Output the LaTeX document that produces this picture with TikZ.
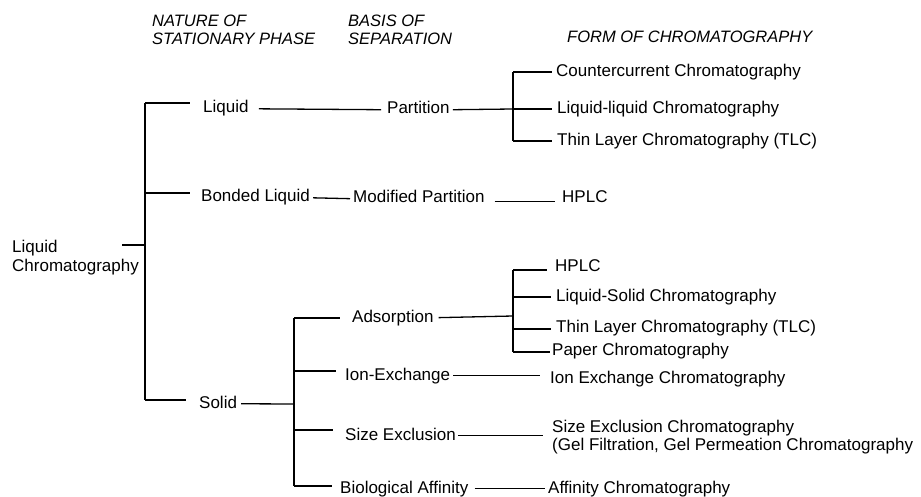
\documentclass[tikz,border=0pt]{standalone}
\usepackage{fontspec}
\newfontfamily\dfont{Liberation Sans}
\begin{document}
\begin{tikzpicture}[x=1pt,y=-1pt,
  lbl/.style={inner sep=0pt, anchor=base west, text height=12pt, text depth=3.5pt,
              font=\dfont\fontsize{17}{20}\selectfont},
  mlbl/.style={inner sep=0pt, anchor=base west, align=left,
              font=\dfont\fontsize{17}{18}\selectfont},
  hdr/.style={inner sep=0pt, anchor=base west, align=left,
              font=\dfont\itshape\fontsize{16.5}{18}\selectfont},
  conn/.style={line width=1.3pt}]
\useasboundingbox (0,0) rectangle (921,497);

% headers (base anchor = baseline of last line)
\node[hdr] (hnature) at (152,45) {NATURE OF\\STATIONARY PHASE};
\node[hdr] (hbasis)  at (348,45) {BASIS OF\\SEPARATION};
\node[hdr] (hform)   at (567,43) {FORM OF CHROMATOGRAPHY};

% root
\node[mlbl, font=\dfont\fontsize{17}{20}\selectfont] (lc) at (12,272) {Liquid\\Chromatography};

% stationary phase
\node[lbl] (liq) at (203,113) {Liquid};
\node[lbl] (bl)  at (201,202) {Bonded Liquid};
\node[lbl] (sol) at (199,408) {Solid};

% basis of separation
\node[lbl] (part) at (387,114) {Partition};
\node[lbl] (mp)   at (353,203) {Modified Partition};
\node[lbl] (ads)  at (352,322) {Adsorption};
\node[lbl] (ion)  at (345,380) {Ion-Exchange};
\node[lbl] (se)   at (345,440) {Size Exclusion};
\node[lbl] (ba)   at (340,493) {Biological Affinity};

% forms
\node[lbl] (cc)    at (556,77)  {Countercurrent Chromatography};
\node[lbl] (ll)    at (557,114) {Liquid-liquid Chromatography};
\node[lbl] (tlc1)  at (557,146) {Thin Layer Chromatography (TLC)};
\node[lbl] (hplc1) at (562,203) {HPLC};
\node[lbl] (hplc2) at (555,272) {HPLC};
\node[lbl] (lsc)   at (556,301) {Liquid-Solid Chromatography};
\node[lbl] (tlc2)  at (556,332) {Thin Layer Chromatography (TLC)};
\node[lbl] (pc)    at (552,355) {Paper Chromatography};
\node[lbl] (iec)   at (550,383) {Ion Exchange Chromatography};
\node[mlbl] (sec)  at (552,450) {Size Exclusion Chromatography\\(Gel Filtration, Gel Permeation Chromatography};
\node[lbl] (ac)    at (548,493) {Affinity Chromatography};

% main bracket
\coordinate (m1) at (145,103);
\coordinate (m2) at (145,193);
\coordinate (m3) at (145,400);
\coordinate (mlc) at (145,245);
\coordinate (lcs) at (122,245);
\draw[conn] (m1) -- (m3);
\draw[conn] (lcs) -- (mlc);
\draw[conn, shorten >=13pt] (m1) -- (m1 -| liq.west);
\draw[conn, shorten >=11pt] (m2) -- (m2 -| bl.west);
\draw[conn, shorten >=13pt] (m3) -- (m3 -| sol.west);

% liquid branch
\draw[conn, shorten <=10pt, shorten >=6pt] (liq.east) -- (part.west);
\coordinate (p0) at (513,109);
\coordinate (p1) at (513,72);
\coordinate (p3) at (513,141);
\draw[conn, shorten <=3pt] (part.east) -- (p0);
\draw[conn] (p1) -- (p3);
\draw[conn, shorten >=4pt] (p1) -- (p1 -| cc.west);
\draw[conn, shorten >=5pt] (p0) -- (p0 -| ll.west);
\draw[conn, shorten >=5pt] (p3) -- (p3 -| tlc1.west);

% bonded liquid branch
\draw[conn, shorten <=3pt, shorten >=3pt] (bl.east) -- (mp.west);
\draw[conn, shorten <=10pt, shorten >=7pt] ([yshift=-3pt]mp.east) -- ([yshift=-3pt]mp.east -| hplc1.west);

% solid branch
\coordinate (s0) at (294,404);
\coordinate (s1) at (294,318);
\coordinate (s2) at (294,371);
\coordinate (s3) at (294,430);
\coordinate (s4) at (294,486);
\draw[conn, shorten <=4pt] (sol.east) -- (s0);
\draw[conn] (s1) -- (s4);
\draw[conn, shorten >=12pt] (s1) -- (s1 -| ads.west);
\draw[conn, shorten >=9pt] (s2) -- (s2 -| ion.west);
\draw[conn, shorten >=12pt] (s3) -- (s3 -| se.west);
\draw[conn, shorten >=8pt] (s4) -- (s4 -| ba.west);

% adsorption bracket
\coordinate (a0) at (513,316);
\coordinate (a1) at (513,270);
\coordinate (a2) at (513,297);
\coordinate (a3) at (513,329);
\coordinate (a4) at (513,352);
\draw[conn, shorten <=5pt] (ads.east) -- (a0);
\draw[conn] (a1) -- (a4);
\draw[conn, shorten >=8pt] (a1) -- (a1 -| hplc2.west);
\draw[conn, shorten >=5pt] (a2) -- (a2 -| lsc.west);
\draw[conn, shorten >=5pt] (a3) -- (a3 -| tlc2.west);
\draw[conn, shorten >=2pt] (a4) -- (a4 -| pc.west);

% other solid forms
\draw[conn, shorten <=3pt, shorten >=10pt] (ion.east) -- (ion.east -| iec.west);
\draw[conn, shorten <=2pt, shorten >=9pt] (se.east) -- (se.east -| sec.west);
\draw[conn, shorten <=6pt, shorten >=3pt] (ba.east) -- (ba.east -| ac.west);
\end{tikzpicture}
\end{document}
